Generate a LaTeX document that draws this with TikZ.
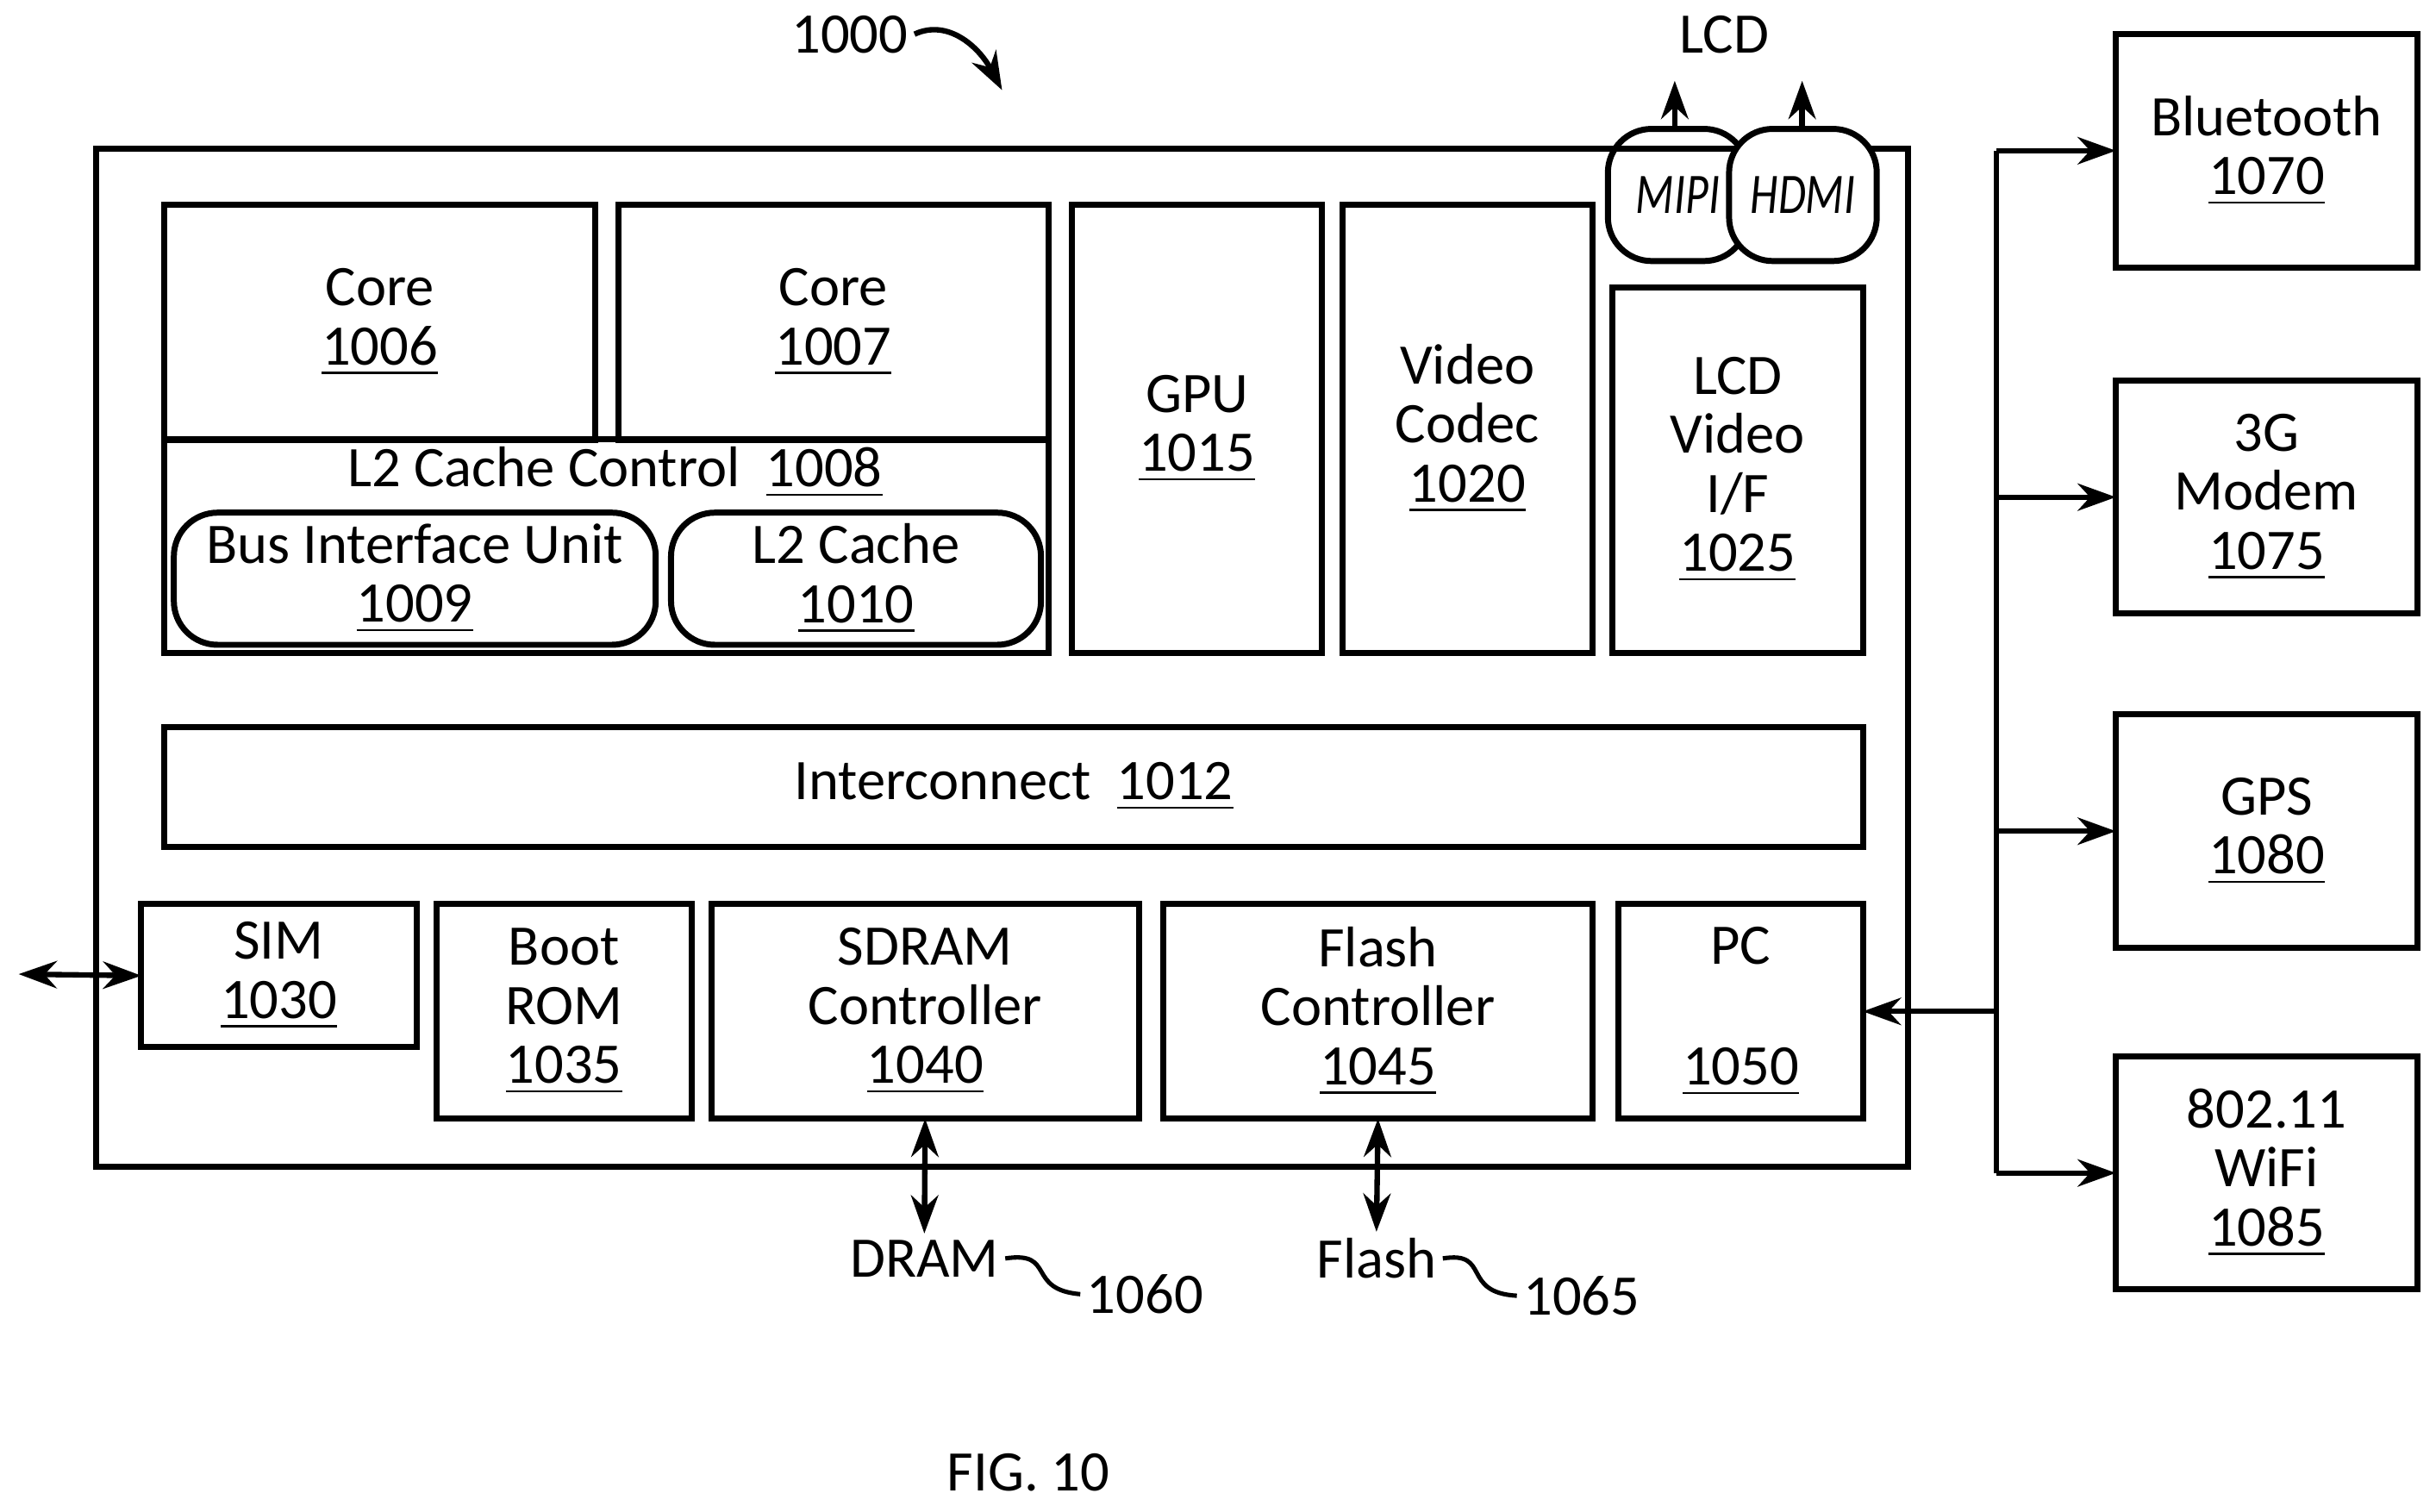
\documentclass[tikz,border=0pt]{standalone}
\usepackage{fontspec}
\setmainfont{Carlito}
\usetikzlibrary{arrows.meta}
\tikzset{
  box/.style={draw, line width=1.1pt, inner sep=0pt, outer sep=0pt, align=center, font=\fontsize{10.5}{10.8}\selectfont},
  rbox/.style={box, rounded corners=8pt},
  lbl/.style={font=\fontsize{10.5}{10.8}\selectfont, inner sep=1pt},
  arr/.style={-{Stealth[length=7pt,width=5pt]}, line width=1pt},
  darr/.style={{Stealth[length=7pt,width=5pt]}-{Stealth[length=7pt,width=5pt]}, line width=1pt}
}
\newcommand{\num}[1]{\underline{#1}}
\newcommand{\narrow}[1]{\scalebox{0.78}[1]{\itshape #1}}
\begin{document}
\begin{tikzpicture}[x=0.01cm, y=-0.01cm]
\useasboundingbox (0,0) rectangle (1568,973);
% SoC outline
\node [box, minimum width=11.66cm, minimum height=6.55cm] (soc) at (645,423.5) {};
% cores and cache
\node [box, minimum width=2.77cm, minimum height=1.51cm] (core6) at (244.5,207.5) {Core\\\num{1006}};
\node [box, minimum width=2.77cm, minimum height=1.51cm] (core7) at (536.5,207.5) {Core\\\num{1007}};
\node [box, minimum width=5.69cm, minimum height=1.37cm] (l2ctl) at (390.5,351.5) {};
\node [lbl] (l2txt) at (396,304) {L2 Cache Control \ \num{1008}};
\node [rbox, minimum width=3.10cm, minimum height=0.85cm] (biu) at (267,372.5) {Bus Interface Unit\\\num{1009}};
\node [rbox, minimum width=2.38cm, minimum height=0.85cm] (l2c) at (551,372.5) {L2 Cache\\\num{1010}};
\node [box, minimum width=1.61cm, minimum height=2.88cm] (gpu) at (770.5,276) {GPU\\\num{1015}};
\node [box, minimum width=1.61cm, minimum height=2.88cm] (codec) at (944.5,276) {Video\\Codec\\\num{1020}};
\node [box, minimum width=1.61cm, minimum height=2.35cm] (lcdif) at (1118.5,302.5) {LCD\\Video\\I/F\\\num{1025}};
% display outputs
\node [rbox, minimum width=0.90cm, minimum height=0.85cm] (mipi) at (1080,125.5) {\narrow{MIPI}};
\node [rbox, minimum width=0.95cm, minimum height=0.85cm, fill=white] (hdmi) at (1160.5,125.5) {\narrow{HDMI}};
\coordinate (mipiup) at (1078,52);
\coordinate (hdmiup) at (1160,52);
\node [lbl] (lcd) at (1110,22) {LCD};
\draw [arr] (mipi.north -| mipiup) -- (mipiup);
\draw [arr] (hdmi.north -| hdmiup) -- (hdmiup);
% interconnect
\node [box, minimum width=10.93cm, minimum height=0.77cm] (ic) at (652.5,506.5) {Interconnect \ \num{1012}};
% bottom row
\node [box, minimum width=1.77cm, minimum height=0.92cm] (sim) at (179.5,628) {SIM\\\num{1030}};
\node [box, minimum width=1.64cm, minimum height=1.38cm] (boot) at (363,651) {Boot\\ROM\\\num{1035}};
\node [box, minimum width=2.75cm, minimum height=1.38cm] (sdram) at (595.5,651) {SDRAM\\Controller\\\num{1040}};
\node [box, minimum width=2.76cm, minimum height=1.38cm] (flash) at (887,651) {Flash\\Controller\\\num{1045}};
\node [box, minimum width=1.57cm, minimum height=1.38cm] (pc) at (1120.5,651) {PC\\[0.4cm]\num{1050}};
% external memories
\node [lbl] (dram) at (595,810) {DRAM};
\node [lbl] (flmem) at (886,810) {Flash};
\node [lbl] (n1060) at (737,833) {1060};
\node [lbl] (n1065) at (1018,834) {1065};
\draw [darr] (sdram.south) -- (dram.north);
\draw [darr] (flash.south) -- (flmem.north);
\draw [line width=0.8pt] (dram.east) .. controls (680,805) and (660,830) .. (n1060.west);
\draw [line width=0.8pt] (flmem.east) .. controls (960,805) and (940,832) .. (n1065.west);
\coordinate (simext) at (12,627);
\draw [darr] (simext) -- (sim.west);
% peripherals
\node [box, minimum width=1.94cm, minimum height=1.50cm] (bt) at (1459,97) {Bluetooth\\\num{1070}};
\node [box, minimum width=1.94cm, minimum height=1.50cm] (modem) at (1459,320) {3G\\Modem\\\num{1075}};
\node [box, minimum width=1.94cm, minimum height=1.50cm] (gps) at (1459,535) {GPS\\\num{1080}};
\node [box, minimum width=1.94cm, minimum height=1.50cm] (wifi) at (1459,755) {802.11\\WiFi\\\num{1085}};
\coordinate (b1) at (1285,97);
\coordinate (b4) at (1285,755);
\coordinate (bp) at (1285,651);
\draw [line width=1pt] (b1) -- (b4);
\foreach \d in {bt, modem, gps, wifi}
  \draw [arr] (b1 |- \d.west) -- (\d.west);
\draw [arr] (bp) -- (pc.east);
% labels
\node [lbl] (n1000) at (547,22) {1000};
\coordinate (n1000tip) at (645,58);
\draw [arr] (n1000.east) .. controls (610,12) and (630,30) .. (n1000tip);
\node [lbl] (fig) at (662,948) {FIG. 10};
\end{tikzpicture}
\end{document}
